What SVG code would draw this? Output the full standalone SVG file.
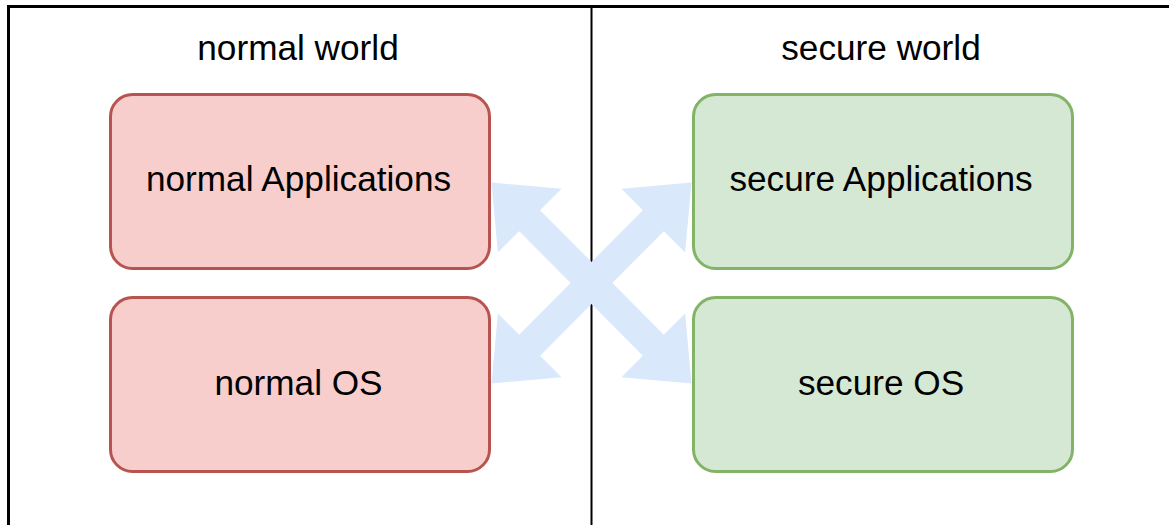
<svg xmlns="http://www.w3.org/2000/svg" width="1169" height="525" viewBox="0 0 1169 525">
  <style>
    .frame { fill: none; stroke: #000000; stroke-width: 3; }
    .divider { stroke: #000000; stroke-width: 2; }
    .normal { fill: #f8cecc; stroke: #b85450; stroke-width: 3; }
    .secure { fill: #d5e8d4; stroke: #82b366; stroke-width: 3; }
    .flow { fill: #dae8fc; stroke: none; }
    text { font-family: "Liberation Sans", Arial, Helvetica, sans-serif; font-size: 35.2px; fill: #000000; text-anchor: middle; }
  </style>

  <rect width="1169" height="525" fill="#ffffff"/>

  <!-- outer frame and divider between the two worlds -->
  <g id="frame">
    <polyline class="frame" points="8.5,525 8.5,6.5 1169,6.5"/>
    <line class="divider" x1="591.5" y1="6" x2="591.5" y2="525"/>
    <text x="298" y="60">normal world</text>
    <text x="881" y="60">secure world</text>
  </g>

  <g id="normal-apps">
    <rect class="normal" x="110.5" y="94.5" width="379" height="174" rx="22" ry="22"/>
    <text x="298.5" y="191">normal Applications</text>
  </g>
  <g id="normal-os">
    <rect class="normal" x="110.5" y="297.5" width="379" height="174" rx="22" ry="22"/>
    <text x="298.5" y="394.5">normal OS</text>
  </g>
  <g id="secure-apps">
    <rect class="secure" x="693.5" y="94.5" width="379" height="174" rx="22" ry="22"/>
    <text x="881" y="191">secure Applications</text>
  </g>
  <g id="secure-os">
    <rect class="secure" x="693.5" y="297.5" width="379" height="174" rx="22" ry="22"/>
    <text x="881" y="394.5">secure OS</text>
  </g>

  <!-- double-headed block arrows crossing between the worlds -->
  <g id="connectors">
    <polygon class="flow" points="491.5,182.5 561.5,188.86 540.15,210.21 663.79,334.85 685.14,313.5 691.5,383.5 621.5,377.14 642.85,355.79 519.21,231.15 497.86,252.5"/>
    <polygon class="flow" points="691.5,182.5 621.5,188.86 642.85,210.21 519.21,334.85 497.86,313.5 491.5,383.5 561.5,377.14 540.15,355.79 663.79,231.15 685.14,252.5"/>
  </g>
</svg>
